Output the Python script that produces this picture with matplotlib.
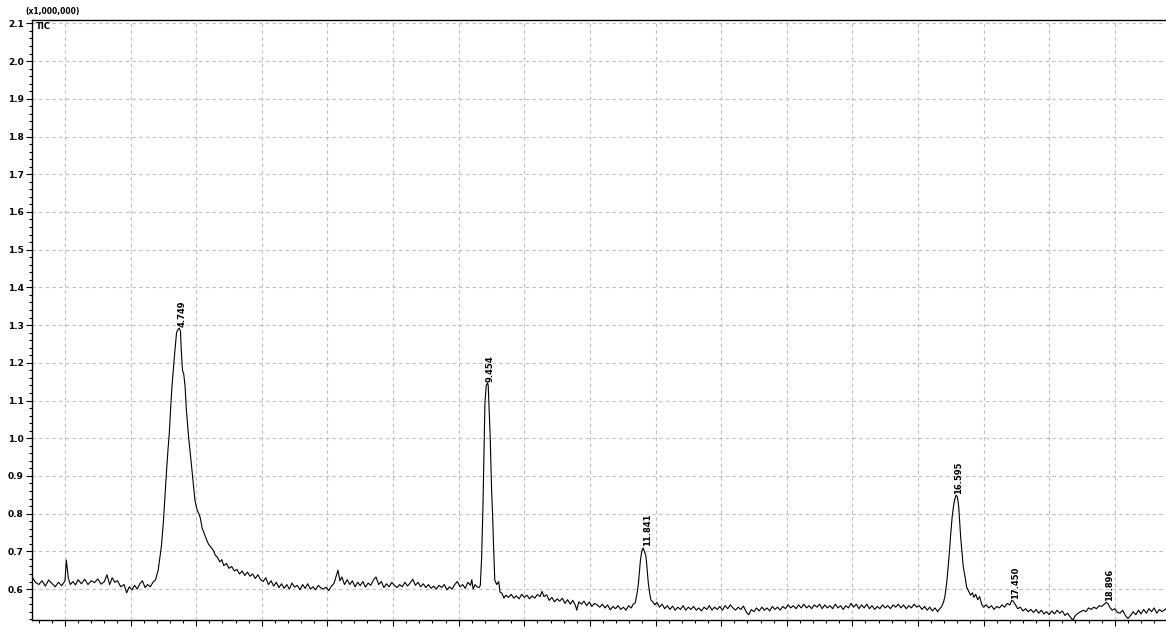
import matplotlib
matplotlib.use("Agg")
import matplotlib.pyplot as plt
from matplotlib.ticker import MultipleLocator, FormatStrFormatter

# Retention time (min) and TIC intensity (x1,000,000)
rt = [
    2.50, 2.55, 2.60, 2.65, 2.70, 2.75, 2.80, 2.85, 2.90, 2.95, 3.00, 3.02, 3.05, 3.08, 3.12, 3.16,
    3.20, 3.25, 3.30, 3.35, 3.40, 3.45, 3.50, 3.55, 3.60, 3.64, 3.68, 3.72, 3.76, 3.80, 3.85, 3.90,
    3.94, 3.98, 4.02, 4.06, 4.10, 4.14, 4.18, 4.22, 4.26, 4.30, 4.34, 4.38,
    4.42, 4.45, 4.47, 4.50, 4.52, 4.55, 4.57, 4.59, 4.61, 4.63, 4.65, 4.67, 4.70, 4.72, 4.74, 4.76,
    4.77, 4.79, 4.81, 4.83, 4.85, 4.88, 4.91, 4.93, 4.96, 4.98, 5.01, 5.04, 5.06, 5.09, 5.12, 5.16,
    5.19, 5.22, 5.26, 5.29, 5.32, 5.36, 5.39, 5.42, 5.46, 5.50, 5.54, 5.58, 5.62, 5.66, 5.70, 5.74,
    5.78, 5.82, 5.86, 5.90, 5.94, 5.98, 6.02, 6.06, 6.10, 6.14, 6.18, 6.22, 6.26, 6.30, 6.34, 6.38,
    6.42, 6.46, 6.50, 6.54, 6.58, 6.62, 6.66, 6.70, 6.74, 6.78, 6.82, 6.86, 6.90, 6.94, 6.98, 7.02,
    7.06, 7.10, 7.14, 7.16, 7.19, 7.22, 7.26, 7.30, 7.34, 7.38, 7.42, 7.46, 7.50, 7.54, 7.58, 7.62,
    7.66, 7.70, 7.74, 7.78, 7.82, 7.86, 7.90, 7.94, 7.98, 8.02, 8.06, 8.10, 8.14, 8.18, 8.22, 8.26,
    8.30, 8.34, 8.38, 8.42, 8.46, 8.50, 8.54, 8.58, 8.62, 8.66, 8.70, 8.74, 8.78, 8.82, 8.86, 8.90,
    8.94, 8.98, 9.02, 9.06, 9.10, 9.14, 9.18, 9.20, 9.22, 9.25, 9.28, 9.31, 9.33,
    9.35, 9.37, 9.38, 9.40, 9.42, 9.44, 9.45, 9.46, 9.48, 9.50, 9.52, 9.53, 9.55, 9.58, 9.61, 9.63,
    9.66, 9.69, 9.72, 9.76, 9.80, 9.84, 9.88, 9.92, 9.96, 10.00, 10.04, 10.08, 10.12, 10.16, 10.20,
    10.24, 10.27, 10.30, 10.34, 10.38, 10.42, 10.46, 10.50, 10.54, 10.58, 10.62, 10.66, 10.70, 10.74,
    10.78, 10.80, 10.83, 10.87, 10.91, 10.95, 10.99, 11.03, 11.07, 11.11, 11.15, 11.19, 11.23, 11.27,
    11.31, 11.35, 11.39, 11.43, 11.47, 11.51, 11.55, 11.59, 11.63, 11.66, 11.69,
    11.72, 11.74, 11.77, 11.79, 11.81, 11.83, 11.85, 11.86, 11.89, 11.91, 11.93, 11.96, 11.99, 12.02,
    12.06, 12.10, 12.14, 12.18, 12.22, 12.26, 12.30, 12.34, 12.38, 12.42, 12.46, 12.50, 12.54, 12.58,
    12.62, 12.66, 12.70, 12.74, 12.78, 12.82, 12.86, 12.90, 12.94, 12.98, 13.02, 13.06, 13.10, 13.14,
    13.18, 13.22, 13.26, 13.30, 13.34, 13.38, 13.42, 13.46, 13.50, 13.54, 13.58, 13.62, 13.66, 13.70,
    13.74, 13.78, 13.82, 13.86, 13.90, 13.94, 13.98, 14.02, 14.06, 14.10, 14.14, 14.18, 14.22, 14.26,
    14.30, 14.34, 14.38, 14.42, 14.46, 14.50, 14.54, 14.58, 14.62, 14.66, 14.70, 14.74, 14.78, 14.82,
    14.86, 14.90, 14.94, 14.98, 15.02, 15.06, 15.10, 15.14, 15.18, 15.22, 15.26, 15.30, 15.34, 15.38,
    15.42, 15.46, 15.50, 15.54, 15.58, 15.62, 15.66, 15.70, 15.74, 15.78, 15.82, 15.86, 15.90, 15.94,
    15.98, 16.02, 16.06, 16.10, 16.14, 16.18, 16.22, 16.26, 16.30, 16.33, 16.36,
    16.39, 16.41, 16.44, 16.46, 16.48, 16.50, 16.52, 16.54, 16.56, 16.58, 16.60, 16.62, 16.63, 16.65,
    16.67, 16.69, 16.72, 16.74, 16.77, 16.80, 16.83, 16.85, 16.88, 16.91, 16.94, 16.97, 17.00, 17.04,
    17.08, 17.12, 17.16, 17.20, 17.24, 17.28, 17.32, 17.36, 17.40, 17.43, 17.45, 17.48, 17.52, 17.56,
    17.60, 17.64, 17.68, 17.72, 17.76, 17.80, 17.84, 17.88, 17.92, 17.96, 18.00, 18.04, 18.08, 18.12,
    18.16, 18.20, 18.24, 18.28, 18.32, 18.36, 18.40, 18.44, 18.48, 18.52, 18.56, 18.60, 18.64, 18.68,
    18.72, 18.76, 18.80, 18.84, 18.87, 18.90, 18.93, 18.96, 19.00, 19.04, 19.08, 19.12, 19.16, 19.20,
    19.24, 19.28, 19.32, 19.36, 19.40, 19.44, 19.48, 19.52, 19.56, 19.60, 19.64, 19.68, 19.72, 19.78,
]

tic = [
    0.632, 0.618, 0.612, 0.622, 0.608, 0.624, 0.615, 0.606, 0.618, 0.609, 0.622, 0.677, 0.630, 0.612, 0.620, 0.611,
    0.625, 0.614, 0.626, 0.612, 0.622, 0.617, 0.627, 0.613, 0.620, 0.638, 0.612, 0.630, 0.618, 0.622, 0.606, 0.612,
    0.590, 0.606, 0.598, 0.610, 0.600, 0.614, 0.622, 0.604, 0.612, 0.606, 0.618, 0.625,
    0.650, 0.690, 0.715, 0.780, 0.836, 0.920, 0.970, 1.014, 1.080, 1.137, 1.180, 1.222, 1.280, 1.288, 1.292, 1.284,
    1.240, 1.180, 1.170, 1.137, 1.075, 1.010, 0.960, 0.924, 0.870, 0.836, 0.812, 0.800, 0.790, 0.762, 0.748, 0.730,
    0.718, 0.712, 0.703, 0.690, 0.685, 0.672, 0.678, 0.662, 0.668, 0.655, 0.660, 0.648, 0.652, 0.640, 0.648, 0.636,
    0.645, 0.634, 0.640, 0.628, 0.638, 0.625, 0.620, 0.630, 0.612, 0.622, 0.608, 0.618, 0.604, 0.614, 0.602, 0.612,
    0.600, 0.616, 0.605, 0.610, 0.598, 0.612, 0.602, 0.614, 0.600, 0.606, 0.598, 0.610, 0.603, 0.600, 0.605, 0.596,
    0.608, 0.615, 0.638, 0.650, 0.622, 0.632, 0.612, 0.625, 0.612, 0.622, 0.606, 0.618, 0.609, 0.620, 0.605, 0.616,
    0.610, 0.624, 0.632, 0.612, 0.620, 0.604, 0.614, 0.606, 0.618, 0.610, 0.604, 0.612, 0.606, 0.618, 0.608, 0.616,
    0.626, 0.610, 0.618, 0.606, 0.614, 0.604, 0.612, 0.602, 0.608, 0.600, 0.610, 0.604, 0.612, 0.598, 0.606, 0.600,
    0.612, 0.620, 0.606, 0.612, 0.602, 0.618, 0.610, 0.625, 0.600, 0.612, 0.606, 0.604, 0.610,
    0.686, 0.820, 0.916, 1.093, 1.140, 1.146, 1.140, 1.093, 1.004, 0.871, 0.780, 0.722, 0.624, 0.612, 0.620, 0.592,
    0.589, 0.576, 0.584, 0.578, 0.586, 0.576, 0.582, 0.574, 0.586, 0.578, 0.584, 0.574, 0.582, 0.576, 0.586,
    0.580, 0.594, 0.580, 0.585, 0.570, 0.578, 0.566, 0.574, 0.568, 0.576, 0.562, 0.572, 0.560, 0.570,
    0.556, 0.544, 0.566, 0.560, 0.568, 0.556, 0.566, 0.554, 0.562, 0.558, 0.552, 0.560, 0.550, 0.558,
    0.545, 0.554, 0.548, 0.556, 0.546, 0.552, 0.544, 0.556, 0.550, 0.560, 0.563,
    0.590, 0.616, 0.677, 0.700, 0.709, 0.700, 0.690, 0.677, 0.616, 0.590, 0.571, 0.566, 0.558, 0.565,
    0.552, 0.560, 0.548, 0.556, 0.546, 0.555, 0.544, 0.552, 0.546, 0.556, 0.544, 0.552, 0.546, 0.554,
    0.544, 0.550, 0.542, 0.552, 0.546, 0.556, 0.544, 0.552, 0.546, 0.554, 0.544, 0.556, 0.548, 0.558,
    0.550, 0.544, 0.552, 0.546, 0.555, 0.540, 0.532, 0.546, 0.540, 0.550, 0.542, 0.552, 0.544, 0.550,
    0.542, 0.554, 0.546, 0.552, 0.544, 0.554, 0.548, 0.558, 0.550, 0.556, 0.548, 0.558, 0.550, 0.560,
    0.550, 0.556, 0.548, 0.558, 0.552, 0.560, 0.548, 0.558, 0.550, 0.556, 0.548, 0.560, 0.550, 0.556,
    0.546, 0.556, 0.550, 0.562, 0.552, 0.560, 0.548, 0.558, 0.550, 0.560, 0.548, 0.556, 0.546, 0.554,
    0.548, 0.558, 0.550, 0.556, 0.548, 0.558, 0.552, 0.560, 0.550, 0.558, 0.548, 0.556, 0.550, 0.560,
    0.552, 0.556, 0.546, 0.554, 0.544, 0.552, 0.542, 0.550, 0.540, 0.548, 0.553,
    0.566, 0.580, 0.620, 0.659, 0.700, 0.748, 0.790, 0.818, 0.838, 0.849, 0.845, 0.820, 0.792, 0.739,
    0.700, 0.659, 0.630, 0.606, 0.595, 0.584, 0.590, 0.578, 0.586, 0.572, 0.580, 0.560, 0.552, 0.558,
    0.550, 0.556, 0.546, 0.554, 0.550, 0.558, 0.552, 0.562, 0.558, 0.570, 0.568, 0.560, 0.548, 0.552,
    0.542, 0.548, 0.540, 0.546, 0.538, 0.546, 0.536, 0.544, 0.534, 0.540, 0.532, 0.542, 0.534, 0.544,
    0.536, 0.542, 0.530, 0.536, 0.526, 0.518, 0.530, 0.536, 0.540, 0.544, 0.540, 0.550, 0.546, 0.552,
    0.548, 0.556, 0.554, 0.560, 0.565, 0.560, 0.550, 0.544, 0.548, 0.538, 0.536, 0.544, 0.530, 0.522,
    0.530, 0.540, 0.532, 0.544, 0.534, 0.546, 0.536, 0.548, 0.540, 0.550, 0.536, 0.546, 0.540, 0.548,
]

# Peak annotations
peak_rt = [4.749, 9.454, 11.841, 16.595, 17.450, 18.896]
peak_height = [1.292, 1.146, 0.709, 0.849, 0.570, 0.565]
peak_labels = ["4.749", "9.454", "11.841", "16.595", "17.450", "18.896"]

FONT = "DejaVu Sans"

fig = plt.figure(figsize=(11.66, 6.33), dpi=100)
ax = fig.add_axes([32 / 1166, 1 - 620 / 633, 1 - 32 / 1166, 600 / 633])

ax.plot(rt, tic, color="black", linewidth=0.8)

ax.set_xlim(2.497, 19.78)
ax.set_ylim(0.518, 2.109)

ax.xaxis.set_major_locator(MultipleLocator(1.0))
ax.xaxis.set_minor_locator(MultipleLocator(0.2))
ax.yaxis.set_major_locator(MultipleLocator(0.1))
ax.yaxis.set_minor_locator(MultipleLocator(0.02))
ax.xaxis.set_major_formatter(FormatStrFormatter("%.1f"))
ax.yaxis.set_major_formatter(FormatStrFormatter("%.1f"))

ax.tick_params(axis="both", which="major", length=4, width=0.8, direction="out",
               labelsize=6.5, pad=2)
ax.tick_params(axis="both", which="minor", length=2.5, width=0.8, direction="out")
ax.tick_params(axis="x", which="major", pad=5)
for lab in ax.get_xticklabels() + ax.get_yticklabels():
    lab.set_fontweight("bold")
    lab.set_family(FONT)

ax.grid(True, which="major", color="#bdbdbd", linestyle=(0, (3, 3)), linewidth=0.8)
ax.set_axisbelow(True)

for side in ["left", "bottom", "top"]:
    ax.spines[side].set_color("black")
    ax.spines[side].set_linewidth(1.0)
ax.spines["right"].set_visible(False)

for x, y, s in zip(peak_rt, peak_height, peak_labels):
    ax.text(x + 0.03, y + 0.004, s, rotation=90, ha="center", va="bottom",
            fontsize=6, fontweight="bold", family=FONT)

fig.text(25 / 1166, 1 - 16 / 633, "(x1,000,000)", fontsize=5.5, fontweight="bold",
         family=FONT, ha="left", va="bottom")
ax.text(0.003, 0.997, "TIC", transform=ax.transAxes, fontsize=6, fontweight="bold",
        family=FONT, ha="left", va="top")

fig.savefig("out.png", dpi=100)
